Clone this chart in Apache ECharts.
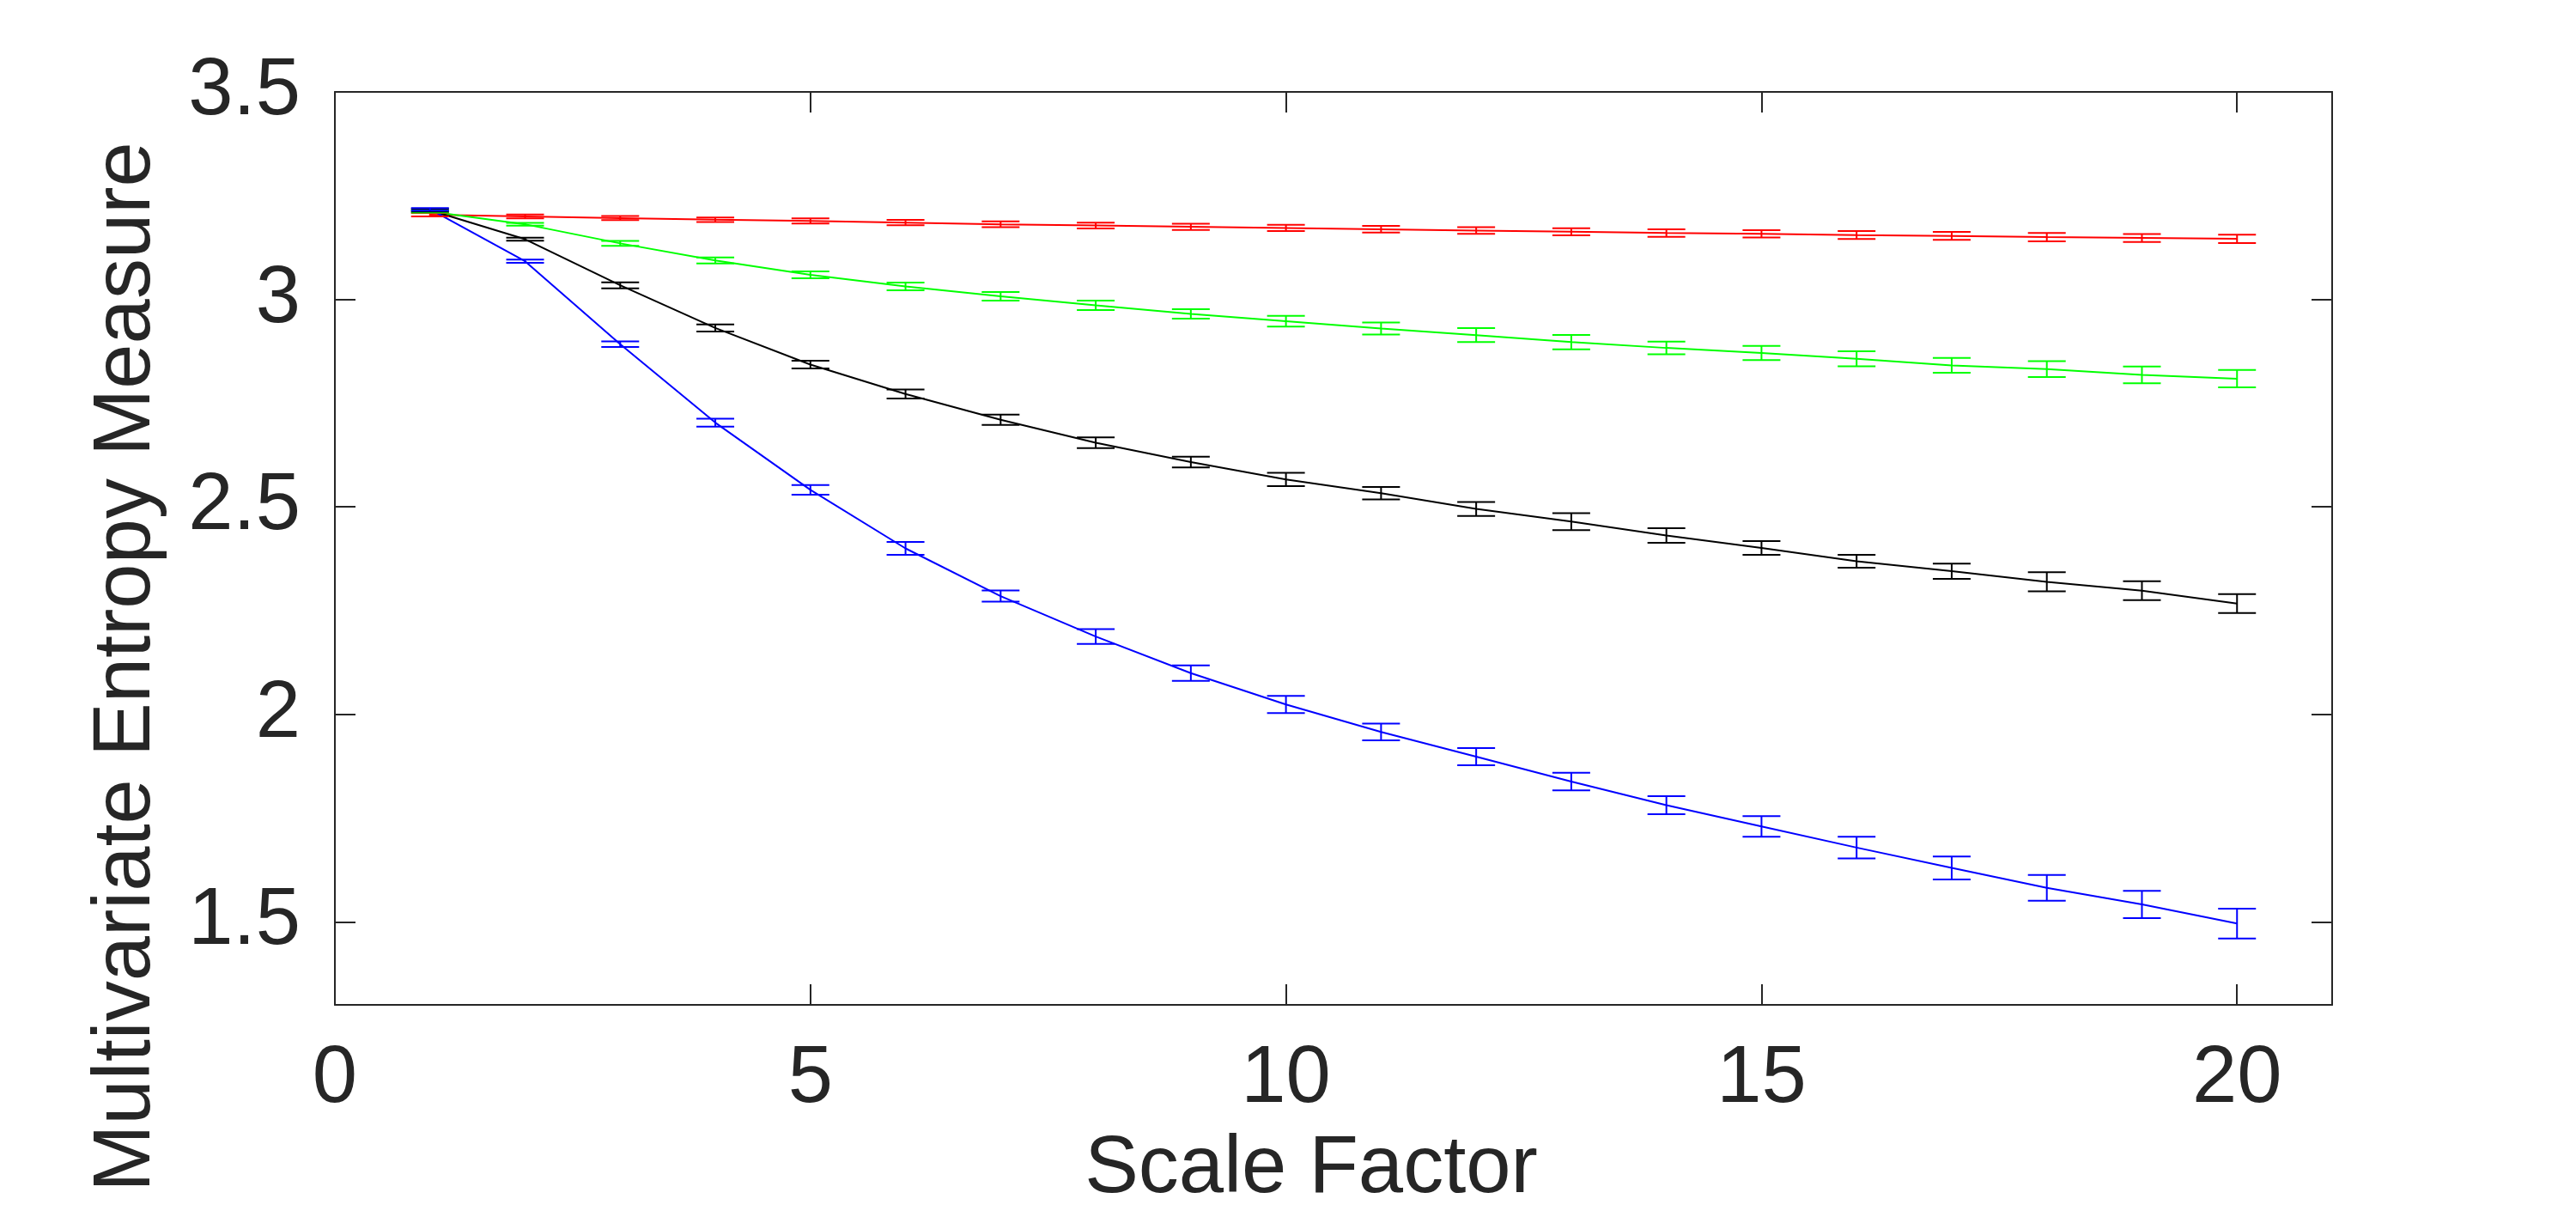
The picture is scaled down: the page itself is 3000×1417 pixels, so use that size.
<!DOCTYPE html>
<html>
<head>
<meta charset="utf-8">
<script src="https://cdn.jsdelivr.net/npm/echarts@6/dist/echarts.min.js"></script>
<style>
html,body{margin:0;padding:0;background:#fff;}
#chart{width:3000px;height:1417px;}
</style>
</head>
<body>
<div id="chart"></div>
<script>
// ---- data ----
const scales = [1,2,3,4,5,6,7,8,9,10,11,12,13,14,15,16,17,18,19,20];

const redMean   = [3.204,3.200,3.196,3.192,3.189,3.185,3.181,3.178,3.175,3.172,3.169,3.166,3.163,3.160,3.158,3.155,3.153,3.150,3.148,3.146];
const redErr    = [0.004,0.0045,0.005,0.0055,0.006,0.0065,0.007,0.007,0.0075,0.0075,0.008,0.008,0.0085,0.009,0.009,0.0095,0.0095,0.010,0.0095,0.010];

const greenMean = [3.212,3.181,3.135,3.094,3.059,3.031,3.0075,2.9855,2.965,2.9475,2.930,2.914,2.897,2.883,2.871,2.857,2.841,2.832,2.818,2.809];
const greenErr  = [0.003,0.0035,0.006,0.0072,0.0083,0.0093,0.0103,0.0114,0.0114,0.013,0.0145,0.0166,0.0172,0.0155,0.017,0.018,0.018,0.019,0.020,0.021];

const blackMean = [3.215,3.145,3.034,2.931,2.843,2.772,2.710,2.6545,2.608,2.566,2.533,2.495,2.4645,2.431,2.401,2.369,2.345,2.3195,2.298,2.267];
const blackErr  = [0.003,0.0035,0.0072,0.0086,0.0093,0.011,0.0124,0.0129,0.0129,0.016,0.0152,0.017,0.0203,0.0176,0.0166,0.0157,0.0185,0.023,0.0226,0.0226];

const blueMean  = [3.217,3.092,2.892,2.703,2.541,2.400,2.285,2.1875,2.0995,2.024,1.9575,1.898,1.838,1.781,1.730,1.679,1.630,1.582,1.542,1.496];
const blueErr   = [0.003,0.0041,0.0066,0.0097,0.0116,0.0157,0.0134,0.018,0.0185,0.0207,0.0203,0.0207,0.0212,0.0217,0.025,0.026,0.0277,0.031,0.0328,0.036];

const xTicks = [0,5,10,15,20];
const yTicks = [1.5,2,2.5,3,3.5];
const xTitle = 'Scale Factor';
const yTitle = 'Multivariate Entropy Measure';

// ---- chart ----
const TXT = '#262626';
const FONT = '"Liberation Sans", Arial, Helvetica, sans-serif';
const AXC = '#262626';

function lineSeries(name, color, means) {
  return {
    type: 'line', name: name,
    data: scales.map((s, i) => [s, means[i]]),
    showSymbol: false, symbol: 'none',
    lineStyle: { color: color, width: 2 },
    itemStyle: { color: color },
    animation: false, z: 3
  };
}
function errSeries(name, color, means, errs) {
  return {
    type: 'custom', name: name,
    data: scales.map((s, i) => [s, means[i] - errs[i], means[i] + errs[i]]),
    encode: { x: 0, y: [1, 2] },
    animation: false, z: 4,
    renderItem: function (params, api) {
      const x = api.value(0);
      const lo = api.coord([x, api.value(1)]);
      const hi = api.coord([x, api.value(2)]);
      const hw = 22;
      const st = { stroke: color, lineWidth: 2, fill: null };
      return {
        type: 'group',
        children: [
          { type: 'line', shape: { x1: lo[0], y1: lo[1], x2: hi[0], y2: hi[1] }, style: st },
          { type: 'line', shape: { x1: lo[0] - hw, y1: lo[1], x2: lo[0] + hw, y2: lo[1] }, style: st },
          { type: 'line', shape: { x1: hi[0] - hw, y1: hi[1], x2: hi[0] + hw, y2: hi[1] }, style: st }
        ]
      };
    }
  };
}

const axisBase = {
  axisLine: { show: true, onZero: false, lineStyle: { color: AXC, width: 2 } },
  axisTick: { show: true, inside: true, length: 24, lineStyle: { color: AXC, width: 2 } },
  splitLine: { show: false }
};

const chart = echarts.init(document.getElementById('chart'), null, { renderer: 'canvas' });
chart.setOption({
  backgroundColor: '#ffffff',
  animation: false,
  grid: { left: 390, right: 284, top: 107, bottom: 247, containLabel: false, outerBoundsMode: 'none' },
  xAxis: [
    Object.assign({}, axisBase, {
      type: 'value', position: 'bottom', min: 0, max: 21,
      axisTick: Object.assign({}, axisBase.axisTick, { customValues: xTicks }),
      axisLabel: { customValues: xTicks, color: TXT, fontSize: 94, fontFamily: FONT, margin: 40 },
      name: xTitle, nameLocation: 'middle', nameGap: 145,
      nameTextStyle: { color: TXT, fontSize: 94, fontFamily: FONT, padding: [0, 52, 0, 0] }
    }),
    Object.assign({}, axisBase, {
      type: 'value', position: 'top', min: 0, max: 21,
      axisTick: Object.assign({}, axisBase.axisTick, { customValues: xTicks }),
      axisLabel: { show: false }
    })
  ],
  yAxis: [
    Object.assign({}, axisBase, {
      type: 'value', position: 'left', min: 1.3, max: 3.5,
      axisTick: Object.assign({}, axisBase.axisTick, { customValues: yTicks }),
      axisLabel: { customValues: yTicks, color: TXT, fontSize: 94, fontFamily: FONT, margin: 40 },
      name: yTitle, nameLocation: 'middle', nameGap: 195,
      nameTextStyle: { color: TXT, fontSize: 94, fontFamily: FONT, padding: [0, 276, 0, 0] }
    }),
    Object.assign({}, axisBase, {
      type: 'value', position: 'right', min: 1.3, max: 3.5,
      axisTick: Object.assign({}, axisBase.axisTick, { customValues: yTicks }),
      axisLabel: { show: false }
    })
  ],
  series: [
    lineSeries('Red', '#ff0000', redMean),
    errSeries('Red', '#ff0000', redMean, redErr),
    lineSeries('Green', '#00ff00', greenMean),
    errSeries('Green', '#00ff00', greenMean, greenErr),
    lineSeries('Black', '#000000', blackMean),
    errSeries('Black', '#000000', blackMean, blackErr),
    lineSeries('Blue', '#0000ff', blueMean),
    errSeries('Blue', '#0000ff', blueMean, blueErr)
  ]
});
</script>
</body>
</html>
